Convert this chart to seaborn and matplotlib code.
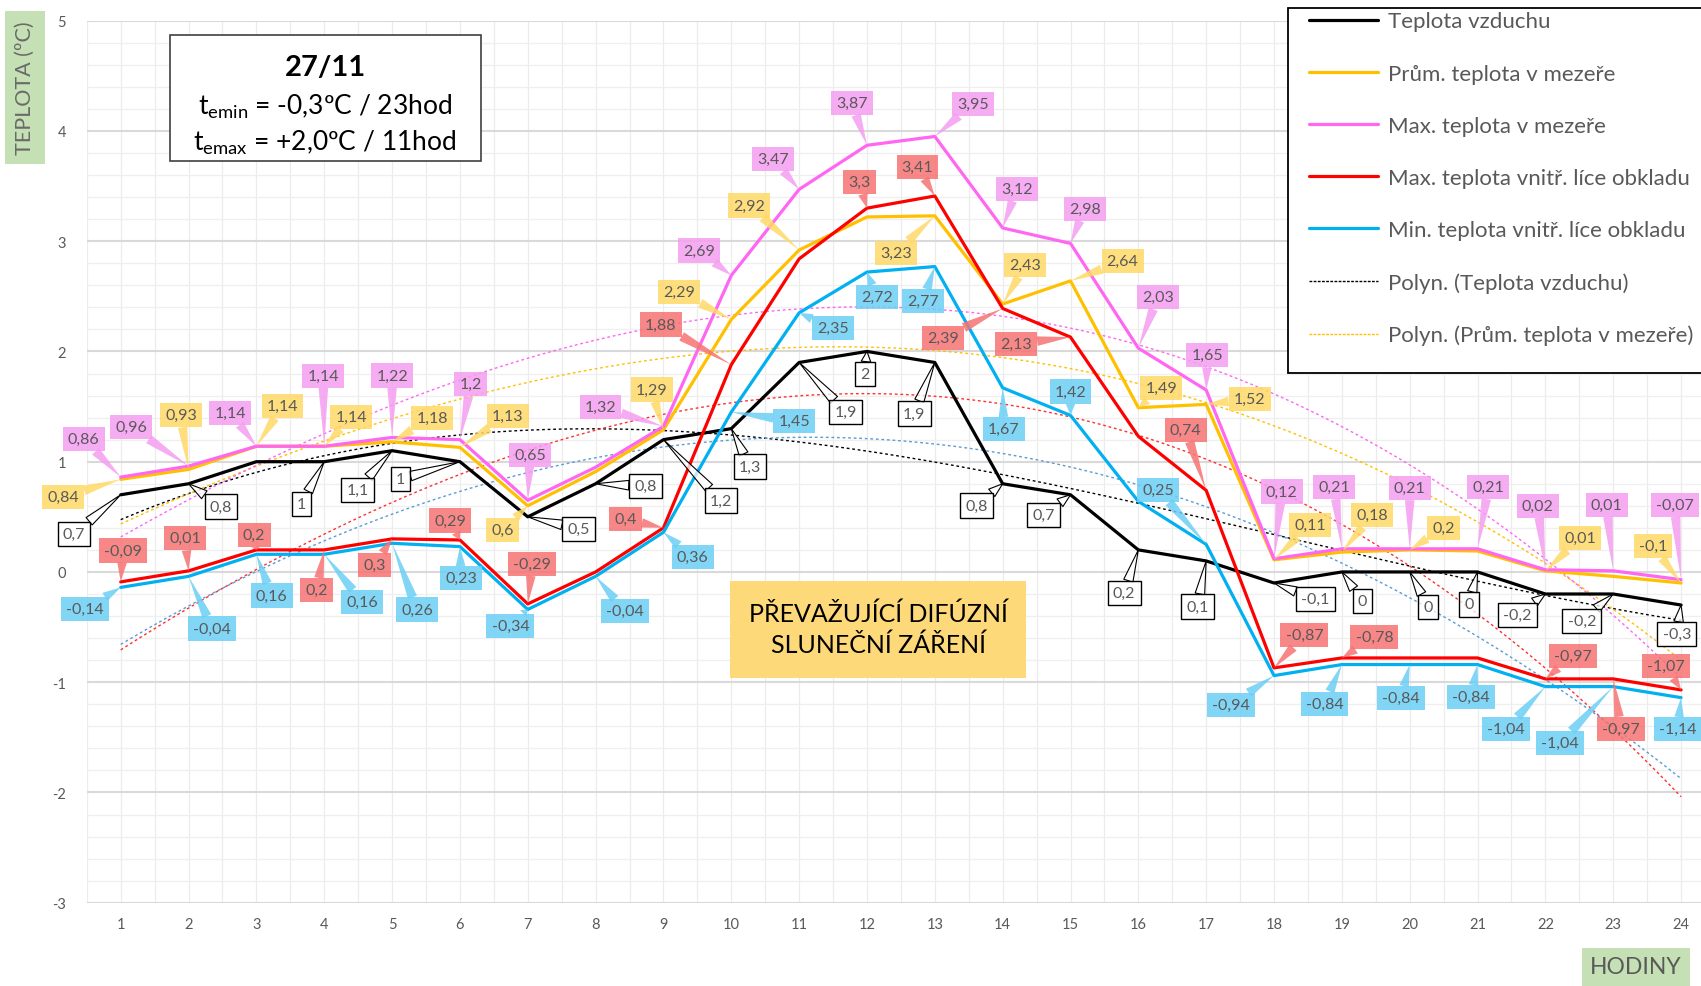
import numpy as np
import pandas as pd
import matplotlib
matplotlib.use('Agg')
import matplotlib.pyplot as plt
import seaborn as sns
from matplotlib.lines import Line2D
from matplotlib.patches import Rectangle

# data (27/11)
hodiny = list(range(1, 25))
t_vzduch = [0.7, 0.8, 1, 1, 1.1, 1, 0.5, 0.8, 1.2, 1.3, 1.9, 2, 1.9, 0.8, 0.7, 0.2, 0.1, -0.1, 0, 0, 0, -0.2, -0.2, -0.3]
t_prum = [0.84, 0.93, 1.14, 1.14, 1.18, 1.13, 0.6, 0.91, 1.29, 2.29, 2.92, 3.22, 3.23, 2.43, 2.64, 1.49, 1.52, 0.11, 0.18, 0.2, 0.19, 0.01, -0.04, -0.1]
t_max = [0.86, 0.96, 1.14, 1.14, 1.22, 1.2, 0.65, 0.95, 1.32, 2.69, 3.47, 3.87, 3.95, 3.12, 2.98, 2.03, 1.65, 0.12, 0.21, 0.21, 0.21, 0.02, 0.01, -0.07]
t_lic_max = [-0.09, 0.01, 0.2, 0.2, 0.3, 0.29, -0.29, 0.0, 0.4, 1.88, 2.84, 3.3, 3.41, 2.39, 2.13, 1.23, 0.74, -0.87, -0.78, -0.78, -0.78, -0.97, -0.97, -1.07]
t_lic_min = [-0.14, -0.04, 0.16, 0.16, 0.26, 0.23, -0.34, -0.04, 0.36, 1.45, 2.35, 2.72, 2.77, 1.67, 1.42, 0.64, 0.25, -0.94, -0.84, -0.84, -0.84, -1.04, -1.04, -1.14]

nazvy = ['Teplota vzduchu', 'Prům. teplota v mezeře', 'Max. teplota v mezeře',
         'Max. teplota vnitř. líce obkladu', 'Min. teplota vnitř. líce obkladu']
nazvy_trend = ['Polyn. (Teplota vzduchu)', 'Polyn. (Prům. teplota v mezeře)']

# posun popisku od bodu (px v nahledu, y nahoru), None = bez popisku
off_vzduch = [(-43, -36), (30, -21), None, (-21, -39), (-32, -36), (-55, -16), (47, -11), (46, -2),
              (53, -56), (17, -35), (43, -46), (-2, -21), (-19, -47), (-24, -20), (-25, -19), (-13, -40),
              (-8, -42), (38, -15), (19, -27), (17, -32), (-8, -30), (-26, -19), (-29, -25), (-4, -27)]
off_prum = [(-53, -16), (-7, 50), (24, 37), (25, 27), (37, 22), (44, 29), (-23, -22), None,
            (-11, 37), (-48, 25), (-46, 41), None, (-36, -34), (21, 36), (48, 18), (21, 18),
            (40, 5), (33, 32), (28, 34), (31, 20), None, (32, 30), None, (-26, 34)]
off_max = [(-34, 35), (-53, 36), (-24, 31), (-1, 65), (0, 57), (10, 51), (2, 42), None,
           (-58, 18), (-30, 23), (-24, 28), (-14, 39), (35, 30), (13, 36), (13, 32), (18, 47),
           (1, 32), (7, 62), (-7, 57), (0, 56), (10, 57), (-7, 59), (-6, 61), (-6, 69)]
off_lic_max = [(2, 29), (-3, 30), (-2, 14), (-7, -37), (-16, -24), (-9, 18), (4, 37), None,
               (-35, 8), (-65, 37), None, (-7, 24), (-16, 27), (-55, -27), (-50, -6), None,
               (-19, 56), (28, 30), (30, 19), None, None, (25, 21), (7, -46), (-14, 22)]
off_lic_min = [(-33, -20), (22, -48), (14, -38), (35, -44), (23, -61), (1, -29), (-16, -15), (27, -32),
               (27, -23), (58, -8), (31, -14), (9, -23), (-11, -32), (1, -38), (0, 22), None,
               (-44, 50), (-40, -27), (-16, -36), (-8, -31), (-6, -30), (-36, -39), (-49, -52), (-3, -29)]

serie = [
    (t_vzduch, 'black', 'black', (1, 1, 1, 0.75), 'black', off_vzduch),
    (t_prum, '#ffc000', '#ffc000', (1.0, 0.85, 0.40, 0.85), 'none', off_prum),
    (t_max, '#ff66f2', '#ff66f2', (0.96, 0.62, 0.94, 0.85), 'none', off_max),
    (t_lic_max, '#ff0000', '#ff3030', (0.97, 0.45, 0.45, 0.85), 'none', off_lic_max),
    (t_lic_min, '#00b0f0', '#5b9bd5', (0.42, 0.81, 0.96, 0.85), 'none', off_lic_min),
]

sns.set_style('white')
plt.rcParams['font.family'] = ['Lato', 'DejaVu Sans']
plt.rcParams['axes.unicode_minus'] = False
plt.rcParams['mathtext.fontset'] = 'custom'
plt.rcParams['mathtext.rm'] = 'Lato'

W, H = 1701, 987
SC = W / 1568
SEDA = '#595959'

fig = plt.figure(figsize=(W / 100, H / 100), dpi=100)
ax = fig.add_axes([86.8 / W, 1 - 903.7 / H, (1715 - 86.8) / W, (903.7 - 21.7) / H])

# polynomicke spojnice trendu
for vals, c, tc, fc, ec, offs in serie:
    sns.regplot(x=hodiny, y=vals, order=3, ci=None, scatter=False, truncate=True, ax=ax,
                line_kws=dict(color=tc, lw=1.0, ls=(0, (2, 2)), zorder=2))

for vals, c, tc, fc, ec, offs in serie:
    sns.lineplot(x=hodiny, y=vals, color=c, lw=2.3, ax=ax, zorder=3, legend=False)

# popisky hodnot
for vals, c, tc, fc, ec, offs in serie:
    for h, v, off in zip(hodiny, vals, offs):
        if off is None:
            continue
        txt = f'{v:g}'.replace('.', ',')
        ax.annotate(txt, (h, v), xytext=(off[0] * SC, off[1] * SC), textcoords='offset pixels',
                    ha='center', va='center', fontsize=11.5, color=SEDA, zorder=5,
                    bbox=dict(boxstyle='square,pad=0.32', fc=fc, ec=ec, lw=1),
                    arrowprops=dict(arrowstyle='wedge,tail_width=0.6,shrink_factor=0.5',
                                    fc=fc, ec=ec, lw=0.8, shrinkA=0, shrinkB=0))

ax.set_xlim(0.5, 24.5)
ax.set_ylim(-3, 5)
ax.set_xticks(hodiny)
ax.set_xticks(np.arange(0.5, 25, 1), minor=True)
ax.set_yticks(range(-3, 6))
ax.set_yticks(np.arange(-3, 5.01, 0.2), minor=True)
ax.grid(axis='x', which='both', color='#ececec', lw=0.9)
ax.grid(axis='y', which='minor', color='#efefef', lw=0.9)
ax.grid(axis='y', which='major', color='#d9d9d9', lw=1.5)
ax.set_axisbelow(True)
ax.tick_params(which='both', length=0, labelsize=10.5, colors=SEDA)
ax.tick_params(axis='y', pad=15)
ax.tick_params(axis='x', pad=10)
ax.set_xlabel('')
ax.set_ylabel('')
for s in ax.spines.values():
    s.set_visible(False)

# legenda
handles = [Line2D([], [], color=s[1], lw=2.3) for s in serie]
handles += [Line2D([], [], color='black', lw=1.0, ls=(0, (2, 1))),
            Line2D([], [], color='#ffc000', lw=1.0, ls=(0, (2, 1)))]
fig.add_artist(Rectangle((1288 / W, 1 - 374 / H), (1760 - 1288) / W, (374 - 9) / H,
                         transform=fig.transFigure, fc='white', ec='black', lw=1.3, zorder=4))
leg = fig.legend(handles=handles, labels=nazvy + nazvy_trend, loc='upper left',
                 bbox_to_anchor=(1309 / W, 1 - 12.5 / H), frameon=False, fontsize=16,
                 handlelength=3.1, handletextpad=0.45, labelspacing=1.445,
                 borderpad=0, borderaxespad=0)
leg.set_zorder(6)
for t in leg.get_texts():
    t.set_color(SEDA)

# ramecek s datem
fig.add_artist(Rectangle((170 / W, 1 - 162 / H), 311 / W, 126 / H, transform=fig.transFigure,
                         fc='white', ec='#404040', lw=1.2, zorder=4))
fig.text(325 / W, 1 - 68 / H, '27/11', ha='center', va='center', fontsize=21,
         fontweight='bold', color='black', zorder=6)
fig.text(325 / W, 1 - 107 / H, r'$\mathregular{t_{emin}}$ = -0,3ºC / 23hod', ha='center',
         va='center', fontsize=19, color='black', zorder=6)
fig.text(325 / W, 1 - 143 / H, r'$\mathregular{t_{emax}}$ = +2,0ºC / 11hod', ha='center',
         va='center', fontsize=19, color='black', zorder=6)

# poznamka
fig.add_artist(Rectangle((730 / W, 1 - 679 / H), 296 / W, 97 / H, transform=fig.transFigure,
                         fc='#fed97a', ec='none', zorder=4))
fig.text(878 / W, 1 - 630 / H, 'PŘEVAŽUJÍCÍ DIFÚZNÍ\nSLUNEČNÍ ZÁŘENÍ', ha='center',
         va='center', fontsize=18, linespacing=1.38, color='black', zorder=6)

# popisy os
fig.text(25 / W, 1 - 88 / H, 'TEPLOTA (ºC)', rotation=90, ha='center', va='center',
         fontsize=15.5, color='#6a6a6a',
         bbox=dict(boxstyle='square,pad=0.45', fc='#c5e0b4', ec='none'))
fig.text(1636 / W, 1 - 968 / H, 'HODINY', ha='center', va='center', fontsize=16.5,
         color=SEDA, bbox=dict(boxstyle='square,pad=0.35', fc='#c5e0b4', ec='none'))

fig.savefig('out.png', dpi=100)
